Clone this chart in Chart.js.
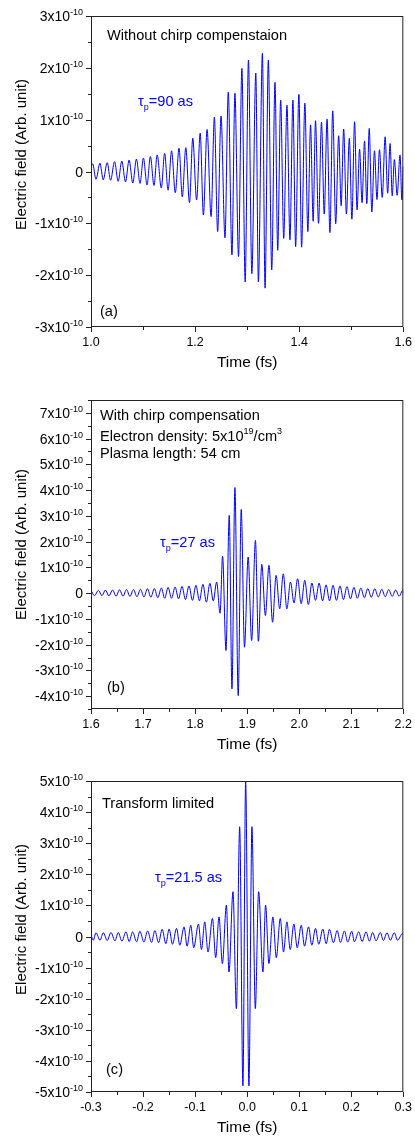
<!DOCTYPE html>
<html>
<head>
<meta charset="utf-8">
<script src="https://cdn.jsdelivr.net/npm/chart.js@4.4.0/dist/chart.umd.min.js"></script>
<style>
  html, body { margin: 0; padding: 0; background: #fff; }
  body { position: relative; width: 415px; height: 1137px; overflow: hidden; }
  canvas { position: absolute; left: 0; }
</style>
</head>
<body>
<canvas id="chartA" width="415" height="376" style="top:0px"></canvas>
<canvas id="chartB" width="415" height="378" style="top:376px"></canvas>
<canvas id="chartC" width="415" height="383" style="top:754px"></canvas>
<script>
// field values are in units of 1e-10 (arb. unit), times in fs
const FIELD_UNIT = 1e-10;

// (a) without chirp compensation: crests and troughs
const timeA = [1.0000,1.0032,1.0096,1.0172,1.0235,1.0311,1.0376,1.0453,1.0522,1.0592,1.0663,1.0732,1.0803,1.0873,1.0942,1.1007,1.1076,1.1141,1.1210,1.1271,1.1351,1.1414,1.1481,1.1548,1.1620,1.1691,1.1754,1.1821,1.1892,1.1955,1.2029,1.2098,1.2159,1.2230,1.2307,1.2370,1.2433,1.2498,1.2574,1.2637,1.2708,1.2765,1.2834,1.2899,1.2962,1.3025,1.3090,1.3166,1.3216,1.3293,1.3344,1.3407,1.3472,1.3535,1.3587,1.3644,1.3702,1.3765,1.3822,1.3879,1.3931,1.3994,1.4046,1.4109,1.4166,1.4218,1.4268,1.4313,1.4371,1.4428,1.4481,1.4535,1.4590,1.4644,1.4701,1.4758,1.4806,1.4854,1.4907,1.4963,1.5012,1.5064,1.5112,1.5160,1.5207,1.5255,1.5299,1.5345,1.5395,1.5446,1.5494,1.5542,1.5595,1.5651,1.5699,1.5746,1.5787,1.5828,1.5882,1.5937,1.5972,1.6000];
const fieldA = [0.10,0.15,-0.15,0.16,-0.16,0.17,-0.17,0.19,-0.19,0.20,-0.20,0.22,-0.22,0.24,-0.23,0.26,-0.26,0.29,-0.27,0.32,-0.32,0.35,-0.36,0.40,-0.41,0.45,-0.49,0.46,-0.60,0.64,-0.55,0.74,-0.84,0.81,-0.87,1.05,-1.16,1.07,-1.28,1.53,-1.61,1.51,-1.64,1.99,-2.13,2.15,-1.97,1.90,-2.13,2.28,-2.25,2.15,-1.90,1.72,-1.52,1.38,-1.29,1.28,-1.32,1.38,-1.45,1.49,-1.46,1.32,-1.16,0.90,-0.96,0.98,-1.00,0.95,-0.82,1.01,-1.18,1.17,-1.01,0.69,-0.66,0.82,-0.82,0.64,-0.92,0.96,-0.74,0.43,-0.60,0.59,-0.62,0.83,-0.78,0.40,-0.54,0.42,-0.50,0.67,-0.42,0.54,-0.47,0.23,-0.46,0.32,-0.55,0.10];

// (b) with chirp compensation
const timeB = [1.6000,1.6067,1.6143,1.6210,1.6277,1.6344,1.6415,1.6482,1.6548,1.6615,1.6682,1.6749,1.6816,1.6883,1.6950,1.7017,1.7084,1.7150,1.7217,1.7284,1.7351,1.7416,1.7481,1.7548,1.7615,1.7682,1.7749,1.7815,1.7882,1.7949,1.8016,1.8083,1.8150,1.8217,1.8284,1.8349,1.8414,1.8479,1.8528,1.8593,1.8656,1.8708,1.8765,1.8828,1.8886,1.8949,1.9019,1.9086,1.9159,1.9216,1.9281,1.9350,1.9419,1.9488,1.9556,1.9625,1.9694,1.9763,1.9832,1.9900,1.9969,2.0038,2.0107,2.0175,2.0244,2.0313,2.0382,2.0449,2.0516,2.0583,2.0649,2.0716,2.0783,2.0850,2.0917,2.0984,2.1051,2.1118,2.1184,2.1251,2.1318,2.1385,2.1452,2.1519,2.1586,2.1653,2.1720,2.1786,2.1853,2.1920,2.1987,2.2000];
const fieldB = [0.11,-0.10,0.11,-0.10,0.12,-0.11,0.12,-0.12,0.13,-0.12,0.14,-0.13,0.14,-0.14,0.15,-0.15,0.17,-0.16,0.18,-0.18,0.20,-0.20,0.22,-0.20,0.24,-0.22,0.26,-0.25,0.28,-0.28,0.30,-0.30,0.34,-0.35,0.38,-0.30,0.43,-0.78,1.43,-2.23,3.02,-3.72,4.10,-3.98,3.25,-2.10,1.40,-1.84,2.05,-1.87,1.12,-0.87,1.08,-1.13,0.69,-0.61,0.75,-0.61,0.43,-0.38,0.56,-0.41,0.50,-0.44,0.39,-0.28,0.39,-0.30,0.32,-0.30,0.30,-0.28,0.28,-0.25,0.25,-0.22,0.22,-0.20,0.20,-0.18,0.18,-0.16,0.17,-0.15,0.15,-0.14,0.14,-0.13,0.12,-0.12,0.10,0.00];

// (c) transform limited
const timeC = [-0.3000,-0.2956,-0.2904,-0.2827,-0.2764,-0.2688,-0.2617,-0.2540,-0.2477,-0.2406,-0.2329,-0.2266,-0.2201,-0.2124,-0.2061,-0.1984,-0.1913,-0.1837,-0.1773,-0.1702,-0.1633,-0.1562,-0.1499,-0.1434,-0.1357,-0.1294,-0.1212,-0.1154,-0.1083,-0.1026,-0.0936,-0.0878,-0.0815,-0.0752,-0.0667,-0.0604,-0.0541,-0.0476,-0.0399,-0.0349,-0.0272,-0.0207,-0.0144,-0.0081,-0.0029,0.0034,0.0092,0.0157,0.0220,0.0303,0.0354,0.0418,0.0494,0.0560,0.0636,0.0699,0.0763,0.0828,0.0897,0.0962,0.1039,0.1102,0.1179,0.1242,0.1313,0.1376,0.1453,0.1518,0.1581,0.1658,0.1729,0.1792,0.1869,0.1932,0.2009,0.2060,0.2143,0.2208,0.2285,0.2348,0.2411,0.2476,0.2559,0.2616,0.2687,0.2750,0.2827,0.2890,0.2986,0.3000];
const fieldC = [0.05,-0.12,0.12,-0.12,0.12,-0.13,0.13,-0.14,0.13,-0.15,0.15,-0.16,0.15,-0.17,0.17,-0.18,0.18,-0.19,0.19,-0.20,0.23,-0.23,0.24,-0.25,0.26,-0.28,0.31,-0.31,0.36,-0.36,0.40,-0.42,0.47,-0.50,0.58,-0.68,0.63,-0.87,1.01,-1.14,1.44,-2.32,3.53,-4.80,5.00,-4.80,3.53,-2.32,1.44,-1.14,1.01,-0.87,0.63,-0.68,0.58,-0.50,0.47,-0.42,0.40,-0.36,0.36,-0.31,0.31,-0.28,0.26,-0.25,0.24,-0.23,0.23,-0.20,0.19,-0.19,0.18,-0.18,0.17,-0.17,0.15,-0.16,0.15,-0.15,0.13,-0.14,0.13,-0.13,0.12,-0.12,0.12,-0.12,0.10,0.05];

const FONT = "'Liberation Sans', Arial, sans-serif";
const BLUE = '#0000ff';

// draws a run of text pieces, some of them sub- or superscript
function drawRuns(ctx, runs, x, y, size, color) {
  let cx = x;
  ctx.textAlign = 'left';
  ctx.textBaseline = 'middle';
  ctx.fillStyle = color;
  for (const r of runs) {
    const s = r.sub || r.sup ? Math.round(size * 0.62) : size;
    ctx.font = `${s}px ${FONT}`;
    const dy = r.sub ? size * 0.4 : r.sup ? -size * 0.38 : 0;
    ctx.fillText(r.t, cx, y + dy);
    cx += ctx.measureText(r.t).width;
  }
  return cx - x;
}

function runsWidth(ctx, runs, size) {
  let w = 0;
  for (const r of runs) {
    const s = r.sub || r.sup ? Math.round(size * 0.62) : size;
    ctx.font = `${s}px ${FONT}`;
    w += ctx.measureText(r.t).width;
  }
  return w;
}

const isMultiple = (v, step) => Math.abs(v / step - Math.round(v / step)) < 1e-6;

// box, Origin-style outside ticks, y labels with exponents, y title and notes
const frame = {
  id: 'frame',
  afterDraw(chart, args, opts) {
    const { ctx, chartArea: { left, top, right, bottom }, scales: { x, y } } = chart;
    ctx.save();
    ctx.strokeStyle = '#222';
    ctx.lineWidth = 1;
    ctx.strokeRect(left + 0.5, top + 0.5, right - left - 1, bottom - top - 1);

    ctx.beginPath();
    const nx = Math.round((x.max - x.min) / opts.xMinor);
    for (let i = 0; i <= nx; i++) {
      const v = x.min + i * opts.xMinor;
      const px = Math.round(x.getPixelForValue(v)) + 0.5;
      ctx.moveTo(px, bottom);
      ctx.lineTo(px, bottom + (isMultiple(v, opts.xMajor) ? 5 : 3));
    }
    const ny = Math.round((y.max - y.min) / opts.yMinor);
    const labels = [];
    for (let i = 0; i <= ny; i++) {
      const v = y.min + i * opts.yMinor;
      const py = Math.round(y.getPixelForValue(v)) + 0.5;
      const major = isMultiple(v, opts.yMajor);
      ctx.moveTo(left, py);
      ctx.lineTo(left - (major ? 5 : 3), py);
      if (major) labels.push([Math.round(v / FIELD_UNIT), py]);
    }
    ctx.stroke();

    for (const [k, py] of labels) {
      const runs = k === 0 ? [{ t: '0' }] : [{ t: k + 'x10' }, { t: '-10', sup: true }];
      const w = runsWidth(ctx, runs, 14);
      drawRuns(ctx, runs, left - 8 - w, py + 1, 14, '#000');
    }

    ctx.save();
    ctx.translate(22, (top + bottom) / 2 + opts.titleShift);
    ctx.rotate(-Math.PI / 2);
    ctx.font = `15px ${FONT}`;
    ctx.fillStyle = '#000';
    ctx.textAlign = 'center';
    ctx.textBaseline = 'middle';
    ctx.fillText('Electric field (Arb. unit)', 0, 0);
    ctx.restore();

    for (const n of opts.notes) {
      drawRuns(ctx, n.runs, left + n.x, top + n.y, 14.6, n.color || '#000');
    }
    ctx.restore();
  },
};

function makeChart(id, times, field, o) {
  return new Chart(document.getElementById(id), {
    type: 'line',
    data: {
      datasets: [{
        data: times.map((t, i) => ({ x: t, y: field[i] * FIELD_UNIT })),
        borderColor: BLUE,
        borderWidth: 1,
        pointRadius: 0,
        cubicInterpolationMode: 'monotone',
        fill: false,
      }],
    },
    options: {
      responsive: false,
      animation: false,
      layout: { padding: { top: o.padTop, right: 10, bottom: o.padBottom, left: 0 } },
      scales: {
        x: {
          type: 'linear',
          min: o.xMin,
          max: o.xMax,
          grid: { display: false, drawTicks: true, tickLength: 5 },
          border: { display: false },
          ticks: {
            stepSize: o.xMajor,
            autoSkip: false,
            maxRotation: 0,
            padding: 3,
            color: '#000',
            font: { family: FONT, size: 12.5 },
            callback: (v) => (Math.abs(v) < 1e-9 ? '0.0' : Number(v).toFixed(1)),
          },
          title: { display: true, text: 'Time (fs)', color: '#000', padding: 0, font: { family: FONT, size: 15.5 } },
          afterFit: (scale) => { scale.height = 45; },
        },
        y: {
          min: o.yMin * FIELD_UNIT,
          max: o.yMax * FIELD_UNIT,
          grid: { display: false },
          border: { display: false },
          ticks: { display: false },
          afterFit: (scale) => { scale.width = 91; },
        },
      },
      plugins: {
        legend: { display: false },
        tooltip: { enabled: false },
        frame: {
          xMajor: o.xMajor, xMinor: o.xMajor / 2,
          yMajor: FIELD_UNIT, yMinor: FIELD_UNIT / 2,
          titleShift: o.titleShift,
          notes: o.notes,
        },
      },
    },
    plugins: [frame],
  });
}

makeChart('chartA', timeA, fieldA, {
  xMin: 1.0, xMax: 1.6, xMajor: 0.2, yMin: -3, yMax: 3, padTop: 16, padBottom: 4, titleShift: -17,
  notes: [
    { x: 16, y: 20, runs: [{ t: 'Without chirp compenstaion' }] },
    { x: 47, y: 86, color: BLUE, runs: [{ t: 'τ' }, { t: 'p', sub: true }, { t: '=90 as' }] },
    { x: 9, y: 296, runs: [{ t: '(a)' }] },
  ],
});

makeChart('chartB', timeB, fieldB, {
  xMin: 1.6, xMax: 2.2, xMajor: 0.1, yMin: -4.5, yMax: 7.5, padTop: 24, padBottom: 0, titleShift: -10,
  notes: [
    { x: 9, y: 16, runs: [{ t: 'With chirp compensation' }] },
    { x: 9, y: 37, runs: [{ t: 'Electron density: 5x10' }, { t: '19', sup: true }, { t: '/cm' }, { t: '3', sup: true }] },
    { x: 9, y: 54, runs: [{ t: 'Plasma length: 54 cm' }] },
    { x: 69, y: 143, color: BLUE, runs: [{ t: 'τ' }, { t: 'p', sub: true }, { t: '=27 as' }] },
    { x: 16, y: 288, runs: [{ t: '(b)' }] },
  ],
});

makeChart('chartC', timeC, fieldC, {
  xMin: -0.3, xMax: 0.3, xMajor: 0.1, yMin: -5, yMax: 5, padTop: 27, padBottom: 0, titleShift: -17,
  notes: [
    { x: 11, y: 23, runs: [{ t: 'Transform limited' }] },
    { x: 64, y: 97, color: BLUE, runs: [{ t: 'τ' }, { t: 'p', sub: true }, { t: '=21.5 as' }] },
    { x: 15, y: 289, runs: [{ t: '(c)' }] },
  ],
});
</script>
</body>
</html>
